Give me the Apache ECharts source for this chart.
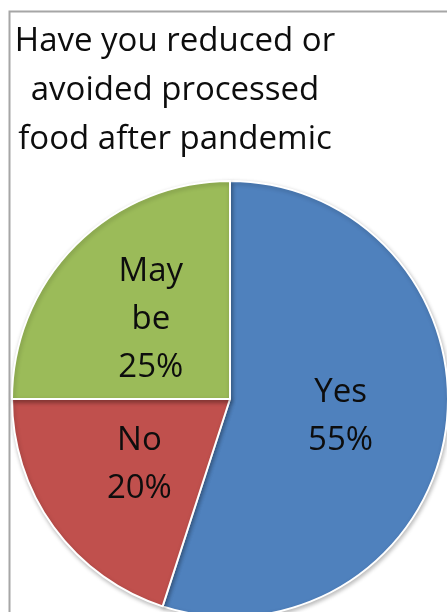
<!DOCTYPE html>
<html>
<head>
<meta charset="utf-8">
<script src="https://cdn.jsdelivr.net/npm/echarts@6/dist/echarts.min.js"></script>
<style>
  html, body { margin: 0; padding: 0; background: #fff; }
  #chart { width: 447px; height: 612px; }
</style>
</head>
<body>
<div id="chart"></div>
<script>
// Survey answers and their shares (percent)
const categories = ['Yes', 'No', 'May be'];
const shares = [55, 20, 25];
const sliceColors = ['#4F81BD', '#C0504D', '#9BBB59'];
const titleLines = ['Have you reduced or', 'avoided processed', 'food after pandemic'];

const FONT = '"Open Sans", sans-serif';

const chart = echarts.init(document.getElementById('chart'), null, { renderer: 'canvas' });

chart.setOption({
  animation: false,
  backgroundColor: '#ffffff',
  title: {
    text: titleLines.join('\n'),
    left: 175,
    top: 17,
    padding: 0,
    textAlign: 'center',
    textStyle: {
      fontFamily: FONT,
      fontSize: 33,
      fontWeight: 'normal',
      color: '#0d0d0d',
      lineHeight: 49
    }
  },
  graphic: [{
    type: 'rect',
    shape: { x: 9.5, y: 11.5, width: 460, height: 640 },
    style: { fill: 'none', stroke: '#a6a6a6', lineWidth: 2 },
    z: 100
  }],
  series: [{
    type: 'pie',
    center: [230, 399],
    radius: [0, 218],
    startAngle: 90,
    clockwise: true,
    data: categories.map((name, i) => ({
      name: name,
      value: shares[i],
      itemStyle: { color: sliceColors[i] }
    })),
    itemStyle: {
      borderColor: '#ffffff',
      borderWidth: 2,
      shadowBlur: 4,
      shadowOffsetX: 1,
      shadowOffsetY: 2,
      shadowColor: 'rgba(0,0,0,0.25)'
    },
    label: {
      show: true,
      position: 'inside',
      formatter: p => p.name.replace(' ', '\n') + '\n' + p.value + '%',
      fontFamily: FONT,
      fontSize: 33,
      lineHeight: 48,
      color: '#0d0d0d'
    },
    labelLine: { show: false },
    emphasis: { disabled: true }
  }]
});
</script>
</body>
</html>
